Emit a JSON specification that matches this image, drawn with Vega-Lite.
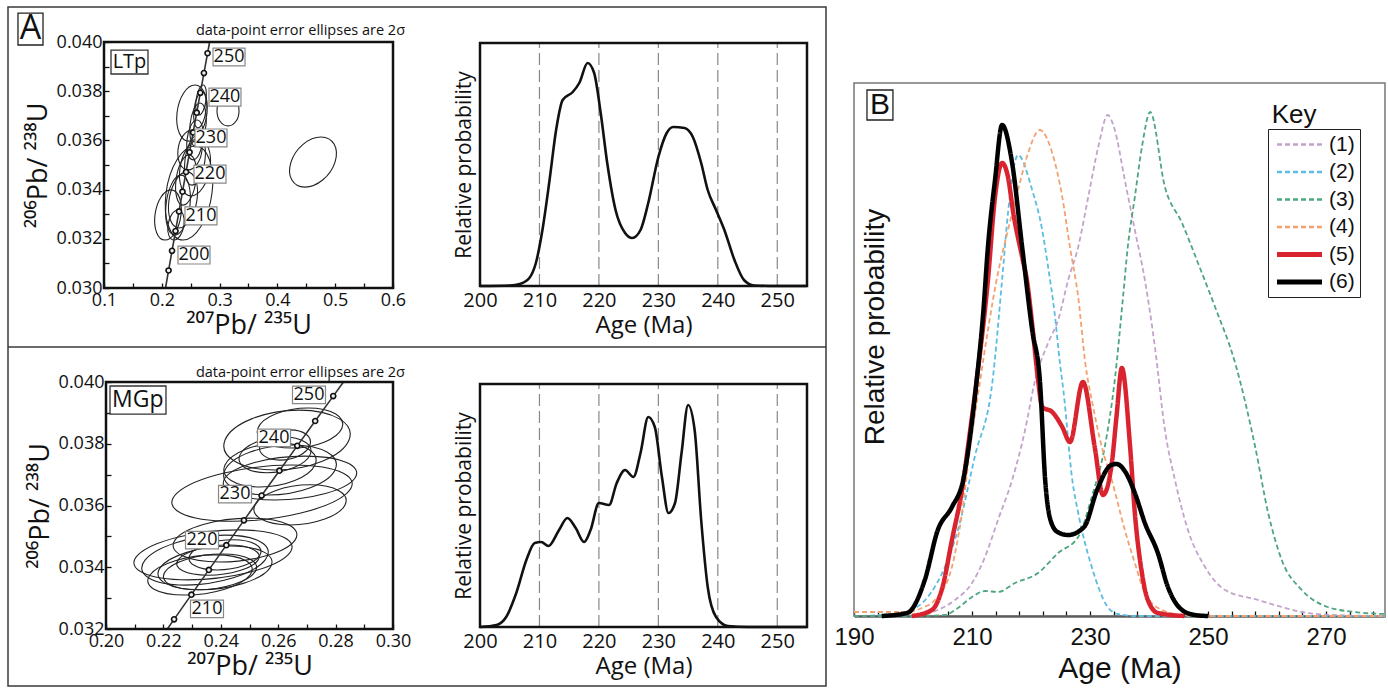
{
"$schema":"https://vega.github.io/schema/vega-lite/v6.json",
"width":1388,"height":690,"autosize":"none","padding":0,"background":"white",
"config":{"view":{"stroke":null},"font":"Open Sans","axis":{"grid":false,"domain":false,"labelFlush":false,"labelOverlap":false,"labelColor":"#111","titleColor":"#111","tickColor":"#111","titleFontWeight":"normal","labelFont":"Open Sans","titleFont":"Open Sans, DejaVu Sans"}},
"data":{"values":[{}]},
"datasets":{
"conc":[{"t":195,"x":0.211726,"y":0.030712},{"t":200,"x":0.217708,"y":0.031511},{"t":205,"x":0.223719,"y":0.032312},{"t":210,"x":0.229759,"y":0.033113},{"t":215,"x":0.23583,"y":0.033914},{"t":220,"x":0.24193,"y":0.034716},{"t":225,"x":0.248061,"y":0.035519},{"t":230,"x":0.254222,"y":0.036323},{"t":235,"x":0.260413,"y":0.037127},{"t":240,"x":0.266635,"y":0.037932},{"t":245,"x":0.272888,"y":0.038737},{"t":250,"x":0.279171,"y":0.039543}],
"ltp_line":[{"t":190.55,"x":0.206427,"y":0.03},{"t":195,"x":0.211726,"y":0.030712},{"t":200,"x":0.217708,"y":0.031511},{"t":205,"x":0.223719,"y":0.032312},{"t":210,"x":0.229759,"y":0.033113},{"t":215,"x":0.23583,"y":0.033914},{"t":220,"x":0.24193,"y":0.034716},{"t":225,"x":0.248061,"y":0.035519},{"t":230,"x":0.254222,"y":0.036323},{"t":235,"x":0.260413,"y":0.037127},{"t":240,"x":0.266635,"y":0.037932},{"t":245,"x":0.272888,"y":0.038737},{"t":250,"x":0.279171,"y":0.039543},{"t":252.83,"x":0.282741,"y":0.04}],
"mgp_line":[{"t":203.05,"x":0.221371,"y":0.032},{"t":205,"x":0.223719,"y":0.032312},{"t":210,"x":0.229759,"y":0.033113},{"t":215,"x":0.23583,"y":0.033914},{"t":220,"x":0.24193,"y":0.034716},{"t":225,"x":0.248061,"y":0.035519},{"t":230,"x":0.254222,"y":0.036323},{"t":235,"x":0.260413,"y":0.037127},{"t":240,"x":0.266635,"y":0.037932},{"t":245,"x":0.272888,"y":0.038737},{"t":250,"x":0.279171,"y":0.039543},{"t":252.83,"x":0.282741,"y":0.04}],
"ltp_lab":[{"label":"250","x":0.3163,"y":0.03939},{"label":"240","x":0.3093,"y":0.03776},{"label":"230","x":0.2851,"y":0.0361},{"label":"220","x":0.2834,"y":0.03463},{"label":"210","x":0.2678,"y":0.03293},{"label":"200","x":0.2557,"y":0.03134}],
"mgp_lab":[{"label":"250","x":0.27073,"y":0.03958},{"label":"240","x":0.25854,"y":0.03819},{"label":"230","x":0.24495,"y":0.03637},{"label":"220","x":0.23345,"y":0.03488},{"label":"210","x":0.23519,"y":0.03265}],
"ltp_ell":[
{"id":"L1","k":1,"x":0.2159,"y":0.03399},{"id":"L1","k":2,"x":0.1882,"y":0.03297},{"id":"L1","k":3,"x":0.2055,"y":0.03195},{"id":"L1","k":4,"x":0.2332,"y":0.03297},
{"id":"L2","k":1,"x":0.2332,"y":0.03459},{"id":"L2","k":2,"x":0.2073,"y":0.03337},{"id":"L2","k":3,"x":0.2228,"y":0.03215},{"id":"L2","k":4,"x":0.2488,"y":0.03337},
{"id":"L3","k":1,"x":0.2574,"y":0.03577},{"id":"L3","k":2,"x":0.2073,"y":0.03386},{"id":"L3","k":3,"x":0.2367,"y":0.03195},{"id":"L3","k":4,"x":0.2869,"y":0.03386},
{"id":"L4","k":1,"x":0.2471,"y":0.03541},{"id":"L4","k":2,"x":0.2246,"y":0.03439},{"id":"L4","k":3,"x":0.2367,"y":0.03337},{"id":"L4","k":4,"x":0.2592,"y":0.03439},
{"id":"L5","k":1,"x":0.2626,"y":0.03622},{"id":"L5","k":2,"x":0.2401,"y":0.0352},{"id":"L5","k":3,"x":0.2523,"y":0.03418},{"id":"L5","k":4,"x":0.2747,"y":0.0352},
{"id":"L6","k":1,"x":0.2609,"y":0.03683},{"id":"L6","k":2,"x":0.2436,"y":0.03602},{"id":"L6","k":3,"x":0.254,"y":0.03521},{"id":"L6","k":4,"x":0.2713,"y":0.03602},
{"id":"L7","k":1,"x":0.2661,"y":0.03752},{"id":"L7","k":2,"x":0.2488,"y":0.03663},{"id":"L7","k":3,"x":0.2592,"y":0.03574},{"id":"L7","k":4,"x":0.2765,"y":0.03663},
{"id":"L8","k":1,"x":0.2574,"y":0.03825},{"id":"L8","k":2,"x":0.2263,"y":0.03711},{"id":"L8","k":3,"x":0.2471,"y":0.03597},{"id":"L8","k":4,"x":0.2782,"y":0.03711},
{"id":"L9","k":1,"x":0.2696,"y":0.03797},{"id":"L9","k":2,"x":0.2557,"y":0.03724},{"id":"L9","k":3,"x":0.2626,"y":0.03651},{"id":"L9","k":4,"x":0.2765,"y":0.03724},
{"id":"L10","k":1,"x":0.2713,"y":0.03825},{"id":"L10","k":2,"x":0.2592,"y":0.03764},{"id":"L10","k":3,"x":0.2644,"y":0.03703},{"id":"L10","k":4,"x":0.2765,"y":0.03764},
{"id":"L11","k":1,"x":0.2523,"y":0.03642},{"id":"L11","k":2,"x":0.228,"y":0.03561},{"id":"L11","k":3,"x":0.2453,"y":0.0348},{"id":"L11","k":4,"x":0.2696,"y":0.03561},
{"id":"L12","k":1,"x":0.2644,"y":0.03602},{"id":"L12","k":2,"x":0.2315,"y":0.03488},{"id":"L12","k":3,"x":0.2505,"y":0.03374},{"id":"L12","k":4,"x":0.2834,"y":0.03488},
{"id":"L13","k":1,"x":0.228,"y":0.03317},{"id":"L13","k":2,"x":0.2107,"y":0.03256},{"id":"L13","k":3,"x":0.2211,"y":0.03195},{"id":"L13","k":4,"x":0.2384,"y":0.03256},
{"id":"L14","k":1,"x":0.2436,"y":0.03472},{"id":"L14","k":2,"x":0.2125,"y":0.03358},{"id":"L14","k":3,"x":0.2298,"y":0.03244},{"id":"L14","k":4,"x":0.2609,"y":0.03358},
{"id":"L15","k":1,"x":0.4754,"y":0.03614},{"id":"L15","k":2,"x":0.4235,"y":0.03512},{"id":"L15","k":3,"x":0.4477,"y":0.0341},{"id":"L15","k":4,"x":0.4997,"y":0.03512},
{"id":"L16","k":1,"x":0.3145,"y":0.03781},{"id":"L16","k":2,"x":0.2955,"y":0.0372},{"id":"L16","k":3,"x":0.3145,"y":0.03659},{"id":"L16","k":4,"x":0.3336,"y":0.0372}],
"mgp_ell":[
{"id":"M1","k":1,"x":0.26725,"y":0.03909},{"id":"M1","k":2,"x":0.24147,"y":0.03812},{"id":"M1","k":3,"x":0.25889,"y":0.03715},{"id":"M1","k":4,"x":0.28467,"y":0.03812},
{"id":"M2","k":1,"x":0.27039,"y":0.03916},{"id":"M2","k":2,"x":0.25297,"y":0.03851},{"id":"M2","k":3,"x":0.26481,"y":0.03786},{"id":"M2","k":4,"x":0.28223,"y":0.03851},
{"id":"M3","k":1,"x":0.26481,"y":0.03731},{"id":"M3","k":2,"x":0.22474,"y":0.0364},{"id":"M3","k":3,"x":0.24391,"y":0.03549},{"id":"M3","k":4,"x":0.28398,"y":0.0364},
{"id":"M4","k":1,"x":0.26934,"y":0.0376},{"id":"M4","k":2,"x":0.24146,"y":0.03689},{"id":"M4","k":3,"x":0.25888,"y":0.03618},{"id":"M4","k":4,"x":0.28676,"y":0.03689},
{"id":"M5","k":1,"x":0.26062,"y":0.03802},{"id":"M5","k":2,"x":0.24146,"y":0.03731},{"id":"M5","k":3,"x":0.25366,"y":0.0366},{"id":"M5","k":4,"x":0.27282,"y":0.03731},
{"id":"M6","k":1,"x":0.26168,"y":0.03822},{"id":"M6","k":2,"x":0.24669,"y":0.03764},{"id":"M6","k":3,"x":0.2561,"y":0.03706},{"id":"M6","k":4,"x":0.27109,"y":0.03764},
{"id":"M7","k":1,"x":0.26411,"y":0.03845},{"id":"M7","k":2,"x":0.25366,"y":0.03796},{"id":"M7","k":3,"x":0.26063,"y":0.03747},{"id":"M7","k":4,"x":0.27108,"y":0.03796},
{"id":"M8","k":1,"x":0.26481,"y":0.03796},{"id":"M8","k":2,"x":0.24147,"y":0.03715},{"id":"M8","k":3,"x":0.25645,"y":0.03634},{"id":"M8","k":4,"x":0.27979,"y":0.03715},
{"id":"M9","k":1,"x":0.27108,"y":0.03667},{"id":"M9","k":2,"x":0.25192,"y":0.03602},{"id":"M9","k":3,"x":0.26412,"y":0.03537},{"id":"M9","k":4,"x":0.28328,"y":0.03602},
{"id":"M10","k":1,"x":0.24599,"y":0.03521},{"id":"M10","k":2,"x":0.21115,"y":0.0344},{"id":"M10","k":3,"x":0.22857,"y":0.03359},{"id":"M10","k":4,"x":0.26341,"y":0.0344},
{"id":"M11","k":1,"x":0.24147,"y":0.03504},{"id":"M11","k":2,"x":0.21359,"y":0.03423},{"id":"M11","k":3,"x":0.22753,"y":0.03342},{"id":"M11","k":4,"x":0.25541,"y":0.03423},
{"id":"M12","k":1,"x":0.24321,"y":0.03469},{"id":"M12","k":2,"x":0.21882,"y":0.03398},{"id":"M12","k":3,"x":0.23275,"y":0.03327},{"id":"M12","k":4,"x":0.25714,"y":0.03398},
{"id":"M13","k":1,"x":0.24042,"y":0.03443},{"id":"M13","k":2,"x":0.22056,"y":0.03385},{"id":"M13","k":3,"x":0.23206,"y":0.03327},{"id":"M13","k":4,"x":0.25192,"y":0.03385},
{"id":"M14","k":1,"x":0.2425,"y":0.03472},{"id":"M14","k":2,"x":0.22508,"y":0.03423},{"id":"M14","k":3,"x":0.23554,"y":0.03374},{"id":"M14","k":4,"x":0.25296,"y":0.03423},
{"id":"M15","k":1,"x":0.25018,"y":0.03559},{"id":"M15","k":2,"x":0.22404,"y":0.03488},{"id":"M15","k":3,"x":0.23972,"y":0.03417},{"id":"M15","k":4,"x":0.26586,"y":0.03488},
{"id":"M16","k":1,"x":0.23798,"y":0.0344},{"id":"M16","k":2,"x":0.21533,"y":0.03375},{"id":"M16","k":3,"x":0.22752,"y":0.0331},{"id":"M16","k":4,"x":0.25017,"y":0.03375},
{"id":"M17","k":1,"x":0.24425,"y":0.03489},{"id":"M17","k":2,"x":0.22926,"y":0.0344},{"id":"M17","k":3,"x":0.23867,"y":0.03391},{"id":"M17","k":4,"x":0.25366,"y":0.0344}],
"ltp_pdp":[{"a":200,"p":0},{"a":205,"p":0.5},{"a":206.7,"p":2},{"a":208.3,"p":8},{"a":209.4,"p":23},{"a":210.5,"p":56},{"a":211.7,"p":106},{"a":212.8,"p":156},{"a":213.9,"p":186},{"a":215.6,"p":194},{"a":216.7,"p":203},{"a":218.1,"p":223},{"a":219.2,"p":213},{"a":220.3,"p":173},{"a":221.4,"p":123},{"a":222.8,"p":76},{"a":224.4,"p":53},{"a":225.6,"p":48},{"a":227,"p":56},{"a":228.3,"p":83},{"a":230,"p":129},{"a":231.4,"p":153},{"a":232.5,"p":159},{"a":234.4,"p":158},{"a":235.8,"p":149},{"a":237.2,"p":123},{"a":238.3,"p":96},{"a":239.7,"p":76},{"a":241.1,"p":56},{"a":242.8,"p":26},{"a":244.4,"p":6},{"a":246.1,"p":0.5},{"a":250,"p":0},{"a":255,"p":0}],
"mgp_pdp":[{"a":200,"p":0},{"a":202.8,"p":2},{"a":204.4,"p":10},{"a":206.1,"p":34},{"a":207.8,"p":67},{"a":209.2,"p":84},{"a":210.3,"p":85},{"a":211.5,"p":81},{"a":213.3,"p":97},{"a":214.7,"p":109},{"a":216.1,"p":99},{"a":217.5,"p":85},{"a":218.6,"p":97},{"a":220,"p":124},{"a":221.7,"p":122},{"a":223,"p":144},{"a":224.4,"p":157},{"a":225.8,"p":150},{"a":227,"p":174},{"a":228.3,"p":210},{"a":229.4,"p":200},{"a":230.6,"p":150},{"a":231.7,"p":114},{"a":232.8,"p":124},{"a":233.9,"p":174},{"a":235,"p":222},{"a":236.1,"p":197},{"a":237.2,"p":107},{"a":238.3,"p":40},{"a":239.7,"p":10},{"a":241.7,"p":1},{"a":245,"p":0},{"a":255,"p":0}],
"grid":[{"g":210},{"g":220},{"g":230},{"g":240},{"g":250}],
"b":[
{"s":"(1)","a":190,"p":0},{"s":"(1)","a":196,"p":0},{"s":"(1)","a":201.5,"p":1},{"s":"(1)","a":204.2,"p":6},{"s":"(1)","a":207.1,"p":16},{"s":"(1)","a":210,"p":33},{"s":"(1)","a":212.2,"p":59},{"s":"(1)","a":214.4,"p":96},{"s":"(1)","a":216.8,"p":136},{"s":"(1)","a":219,"p":186},{"s":"(1)","a":220.7,"p":236},{"s":"(1)","a":222.9,"p":273},{"s":"(1)","a":224.6,"p":296},{"s":"(1)","a":226.3,"p":336},{"s":"(1)","a":228,"p":369},{"s":"(1)","a":229.7,"p":419},{"s":"(1)","a":231.4,"p":469},{"s":"(1)","a":233,"p":501},{"s":"(1)","a":234.2,"p":486},{"s":"(1)","a":235.9,"p":436},{"s":"(1)","a":237.6,"p":386},{"s":"(1)","a":239.3,"p":336},{"s":"(1)","a":241,"p":269},{"s":"(1)","a":242.7,"p":186},{"s":"(1)","a":244.4,"p":136},{"s":"(1)","a":246.6,"p":86},{"s":"(1)","a":249.5,"p":49},{"s":"(1)","a":252.9,"p":26},{"s":"(1)","a":258.5,"p":16},{"s":"(1)","a":262.5,"p":9},{"s":"(1)","a":265.9,"p":4},{"s":"(1)","a":271,"p":1},{"s":"(1)","a":280,"p":0},
{"s":"(2)","a":190,"p":0},{"s":"(2)","a":197,"p":2},{"s":"(2)","a":199.8,"p":6},{"s":"(2)","a":202.5,"p":19},{"s":"(2)","a":205.4,"p":49},{"s":"(2)","a":207.6,"p":86},{"s":"(2)","a":210.5,"p":160},{"s":"(2)","a":213.5,"p":236},{"s":"(2)","a":215.1,"p":336},{"s":"(2)","a":216.1,"p":403},{"s":"(2)","a":217.8,"p":461},{"s":"(2)","a":220.2,"p":426},{"s":"(2)","a":221.9,"p":386},{"s":"(2)","a":222.9,"p":349},{"s":"(2)","a":224,"p":303},{"s":"(2)","a":224.9,"p":253},{"s":"(2)","a":225.5,"p":225},{"s":"(2)","a":227,"p":136},{"s":"(2)","a":228,"p":103},{"s":"(2)","a":230.3,"p":49},{"s":"(2)","a":233,"p":9},{"s":"(2)","a":234.7,"p":2},{"s":"(2)","a":238,"p":0},{"s":"(2)","a":280,"p":0},
{"s":"(3)","a":190,"p":0},{"s":"(3)","a":200,"p":0},{"s":"(3)","a":205.4,"p":1},{"s":"(3)","a":207.6,"p":8},{"s":"(3)","a":210,"p":19},{"s":"(3)","a":212.2,"p":25},{"s":"(3)","a":214.4,"p":24},{"s":"(3)","a":217.3,"p":33},{"s":"(3)","a":221.2,"p":43},{"s":"(3)","a":224.6,"p":63},{"s":"(3)","a":228,"p":79},{"s":"(3)","a":230.3,"p":119},{"s":"(3)","a":232.5,"p":169},{"s":"(3)","a":234.2,"p":236},{"s":"(3)","a":235.6,"p":319},{"s":"(3)","a":236.4,"p":369},{"s":"(3)","a":237.6,"p":419},{"s":"(3)","a":238.8,"p":469},{"s":"(3)","a":240.2,"p":504},{"s":"(3)","a":242.7,"p":429},{"s":"(3)","a":245.6,"p":393},{"s":"(3)","a":248.3,"p":353},{"s":"(3)","a":251.2,"p":309},{"s":"(3)","a":254.6,"p":253},{"s":"(3)","a":258,"p":169},{"s":"(3)","a":260.2,"p":103},{"s":"(3)","a":262.5,"p":56},{"s":"(3)","a":265.9,"p":26},{"s":"(3)","a":270.3,"p":9},{"s":"(3)","a":274.9,"p":4},{"s":"(3)","a":280,"p":2},
{"s":"(4)","a":190,"p":4},{"s":"(4)","a":199,"p":4},{"s":"(4)","a":201.5,"p":8},{"s":"(4)","a":203.7,"p":16},{"s":"(4)","a":206.6,"p":49},{"s":"(4)","a":208.3,"p":103},{"s":"(4)","a":209.7,"p":169},{"s":"(4)","a":211.4,"p":236},{"s":"(4)","a":212.7,"p":286},{"s":"(4)","a":214.4,"p":343},{"s":"(4)","a":216.1,"p":386},{"s":"(4)","a":217.8,"p":426},{"s":"(4)","a":219.3,"p":459},{"s":"(4)","a":221.5,"p":486},{"s":"(4)","a":223.6,"p":463},{"s":"(4)","a":225.3,"p":419},{"s":"(4)","a":226.6,"p":369},{"s":"(4)","a":228,"p":319},{"s":"(4)","a":229.2,"p":253},{"s":"(4)","a":230.5,"p":210},{"s":"(4)","a":232,"p":169},{"s":"(4)","a":233.7,"p":136},{"s":"(4)","a":235.9,"p":86},{"s":"(4)","a":237.6,"p":53},{"s":"(4)","a":239.3,"p":23},{"s":"(4)","a":242.2,"p":6},{"s":"(4)","a":245.6,"p":1},{"s":"(4)","a":250,"p":0},{"s":"(4)","a":280,"p":0},
{"s":"(5)","a":199.8,"p":0},{"s":"(5)","a":203.2,"p":6},{"s":"(5)","a":205,"p":29},{"s":"(5)","a":206.6,"p":76},{"s":"(5)","a":208.3,"p":126},{"s":"(5)","a":209.7,"p":186},{"s":"(5)","a":210.8,"p":236},{"s":"(5)","a":212.7,"p":336},{"s":"(5)","a":213.9,"p":419},{"s":"(5)","a":215.1,"p":453},{"s":"(5)","a":216.1,"p":439},{"s":"(5)","a":217,"p":403},{"s":"(5)","a":218.5,"p":359},{"s":"(5)","a":219.3,"p":336},{"s":"(5)","a":220.3,"p":286},{"s":"(5)","a":221.2,"p":236},{"s":"(5)","a":221.9,"p":209},{"s":"(5)","a":223.6,"p":204},{"s":"(5)","a":225.3,"p":189},{"s":"(5)","a":226.6,"p":174},{"s":"(5)","a":228.8,"p":234},{"s":"(5)","a":230.8,"p":169},{"s":"(5)","a":232.2,"p":121},{"s":"(5)","a":233.7,"p":153},{"s":"(5)","a":234.5,"p":200},{"s":"(5)","a":235.4,"p":248},{"s":"(5)","a":236.8,"p":169},{"s":"(5)","a":237.6,"p":103},{"s":"(5)","a":238.8,"p":43},{"s":"(5)","a":239.8,"p":16},{"s":"(5)","a":241.5,"p":3},{"s":"(5)","a":246,"p":0},
{"s":"(6)","a":194.7,"p":0},{"s":"(6)","a":199,"p":3},{"s":"(6)","a":202,"p":36},{"s":"(6)","a":204.2,"p":86},{"s":"(6)","a":206.6,"p":109},{"s":"(6)","a":208.5,"p":136},{"s":"(6)","a":210.8,"p":236},{"s":"(6)","a":211.9,"p":303},{"s":"(6)","a":212.7,"p":369},{"s":"(6)","a":213.9,"p":436},{"s":"(6)","a":215.1,"p":491},{"s":"(6)","a":216.8,"p":453},{"s":"(6)","a":218.5,"p":369},{"s":"(6)","a":220.2,"p":286},{"s":"(6)","a":221.5,"p":236},{"s":"(6)","a":222.4,"p":136},{"s":"(6)","a":223.3,"p":96},{"s":"(6)","a":224.5,"p":84},{"s":"(6)","a":226.3,"p":81},{"s":"(6)","a":229,"p":89},{"s":"(6)","a":231.2,"p":126},{"s":"(6)","a":233.6,"p":151},{"s":"(6)","a":234.5,"p":152},{"s":"(6)","a":236,"p":144},{"s":"(6)","a":237.6,"p":123},{"s":"(6)","a":239.3,"p":93},{"s":"(6)","a":241.5,"p":63},{"s":"(6)","a":243.2,"p":29},{"s":"(6)","a":245.6,"p":6},{"s":"(6)","a":247.8,"p":1},{"s":"(6)","a":250,"p":0}]
},
"layer":[
{"layer":[
 {"mark":{"type":"rect","filled":false,"stroke":"#3a3a3a","strokeWidth":1.5},
  "encoding":{"x":{"datum":0,"type":"quantitative","scale":{"domain":[0,1],"range":[8,826],"nice":false,"zero":false},"axis":null},"x2":{"datum":1},
   "y":{"datum":0,"type":"quantitative","scale":{"domain":[0,1],"range":[686,7],"nice":false,"zero":false},"axis":null},"y2":{"datum":1}}},
 {"mark":{"type":"rule","stroke":"#3a3a3a","strokeWidth":1.5},"encoding":{"x":{"datum":0,"type":"quantitative"},"x2":{"datum":1},"y":{"datum":0.4993,"type":"quantitative"}}},
 {"mark":{"type":"rect","filled":false,"stroke":"#222","strokeWidth":1.3},"encoding":{"x":{"datum":0.0122,"type":"quantitative"},"x2":{"datum":0.0428},"y":{"datum":0.944,"type":"quantitative"},"y2":{"datum":0.991}}},
 {"mark":{"type":"text","text":"A","fontSize":34,"font":"Open Sans","align":"center","baseline":"middle","color":"#111"},"encoding":{"x":{"datum":0.0275,"type":"quantitative"},"y":{"datum":0.9676,"type":"quantitative"}}}
]},
{"layer":[
 {"data":{"name":"ltp_ell"},"mark":{"type":"line","interpolate":"cardinal-closed","tension":-0.657,"stroke":"#222","strokeWidth":1.1},
  "encoding":{"x":{"field":"x","type":"quantitative","scale":{"domain":[0.1,0.6],"range":[104,393],"nice":false,"zero":false},
    "axis":{"orient":"bottom","offset":-402,"values":[0.1,0.15,0.2,0.25,0.3,0.35,0.4,0.45,0.5,0.55,0.6],"labelExpr":"abs(datum.value*10-round(datum.value*10))<0.001 ? format(datum.value,'.1f') : ''","tickSize":-5,"tickWidth":1.3,"labelPadding":8,"labelFontSize":18,"title":"²⁰⁷Pb/ ²³⁵U","titleFontSize":27,"titlePadding":3}},
   "y":{"field":"y","type":"quantitative","scale":{"domain":[0.03,0.04],"range":[288,42],"nice":false,"zero":false},
    "axis":{"orient":"left","offset":-104,"values":[0.03,0.031,0.032,0.033,0.034,0.035,0.036,0.037,0.038,0.039,0.04],"labelExpr":"abs(datum.value*500-round(datum.value*500))<0.001 ? format(datum.value,'.3f') : ''","tickSize":-5,"tickWidth":1.3,"labelPadding":7,"labelFontSize":18,"title":"²⁰⁶Pb/ ²³⁸U","titleFontSize":27,"titlePadding":4}},
   "detail":{"field":"id"},"order":{"field":"k"}}},
 {"data":{"name":"ltp_line"},"mark":{"type":"line","stroke":"#333","strokeWidth":1.6},"encoding":{"x":{"field":"x","type":"quantitative"},"y":{"field":"y","type":"quantitative"},"order":{"field":"t"}}},
 {"data":{"name":"conc"},"mark":{"type":"point","shape":"circle","size":26,"filled":true,"fill":"#eee","stroke":"#111","strokeWidth":1.6,"opacity":1},"encoding":{"x":{"field":"x","type":"quantitative"},"y":{"field":"y","type":"quantitative"}}},
 {"data":{"name":"ltp_lab"},"mark":{"type":"point","shape":"M-1,-0.56H1V0.56H-1Z","size":1024,"filled":true,"fill":"white","stroke":"#888","strokeWidth":1.2,"opacity":1},"encoding":{"x":{"field":"x","type":"quantitative"},"y":{"field":"y","type":"quantitative"}}},
 {"data":{"name":"ltp_lab"},"mark":{"type":"text","fontSize":18,"font":"Open Sans","color":"#111","align":"center","baseline":"middle"},"encoding":{"x":{"field":"x","type":"quantitative"},"y":{"field":"y","type":"quantitative"},"text":{"field":"label"}}},
 {"mark":{"type":"rect","fill":"white","stroke":"#333","strokeWidth":1.3},"encoding":{"x":{"datum":0.1121,"type":"quantitative"},"x2":{"datum":0.1761},"y":{"datum":0.0387,"type":"quantitative"},"y2":{"datum":0.03967}}},
 {"mark":{"type":"text","text":"LTp","fontSize":20,"font":"Open Sans","color":"#111","align":"center","baseline":"middle"},"encoding":{"x":{"datum":0.1441,"type":"quantitative"},"y":{"datum":0.03919,"type":"quantitative"}}},
 {"mark":{"type":"text","text":"data-point error ellipses are 2σ","fontSize":14.5,"font":"Open Sans","color":"#111","align":"right","baseline":"middle"},"encoding":{"x":{"datum":0.6208,"type":"quantitative"},"y":{"datum":0.040447,"type":"quantitative"}}},
 {"mark":{"type":"rect","filled":false,"stroke":"#111","strokeWidth":2.5},"encoding":{"x":{"datum":0.1,"type":"quantitative"},"x2":{"datum":0.6},"y":{"datum":0.03,"type":"quantitative"},"y2":{"datum":0.04}}}
]},
{"layer":[
 {"data":{"name":"grid"},"mark":{"type":"rule","stroke":"#888","strokeWidth":1.2,"strokeDash":[12,5]},
  "encoding":{"x":{"field":"g","type":"quantitative","scale":{"domain":[200,255],"range":[480,807],"nice":false,"zero":false},
    "axis":{"orient":"bottom","offset":-404,"values":[200,210,220,230,240,250],"ticks":false,"labelPadding":4,"labelFontSize":20,"title":"Age (Ma)","titleFontSize":24,"titlePadding":3}},
   "y":{"datum":0,"type":"quantitative","scale":{"domain":[0,243],"range":[286,43],"nice":false,"zero":false},
    "axis":{"orient":"left","offset":-480,"labels":false,"ticks":false,"title":"Relative probability","titleFontSize":21,"titlePadding":6}},
   "y2":{"datum":243}}},
 {"data":{"name":"ltp_pdp"},"mark":{"type":"line","interpolate":"monotone","stroke":"#111","strokeWidth":2.6},"encoding":{"x":{"field":"a","type":"quantitative"},"y":{"field":"p","type":"quantitative"}}},
 {"mark":{"type":"rect","filled":false,"stroke":"#111","strokeWidth":2.5},"encoding":{"x":{"datum":200,"type":"quantitative"},"x2":{"datum":255},"y":{"datum":0,"type":"quantitative"},"y2":{"datum":243}}}
]},
{"layer":[
 {"data":{"name":"mgp_ell"},"mark":{"type":"line","interpolate":"cardinal-closed","tension":-0.657,"stroke":"#222","strokeWidth":1.1},
  "encoding":{"x":{"field":"x","type":"quantitative","scale":{"domain":[0.2,0.3],"range":[106,393],"nice":false,"zero":false},
    "axis":{"orient":"bottom","offset":-61,"values":[0.2,0.21,0.22,0.23,0.24,0.25,0.26,0.27,0.28,0.29,0.3],"labelExpr":"abs(datum.value*50-round(datum.value*50))<0.001 ? format(datum.value,'.2f') : ''","tickSize":-5,"tickWidth":1.3,"labelPadding":8,"labelFontSize":18,"title":"²⁰⁷Pb/ ²³⁵U","titleFontSize":27,"titlePadding":3}},
   "y":{"field":"y","type":"quantitative","scale":{"domain":[0.032,0.04],"range":[629,382],"nice":false,"zero":false},
    "axis":{"orient":"left","offset":-106,"values":[0.032,0.033,0.034,0.035,0.036,0.037,0.038,0.039,0.04],"labelExpr":"abs(datum.value*500-round(datum.value*500))<0.001 ? format(datum.value,'.3f') : ''","tickSize":-5,"tickWidth":1.3,"labelPadding":7,"labelFontSize":18,"title":"²⁰⁶Pb/ ²³⁸U","titleFontSize":27,"titlePadding":4}},
   "detail":{"field":"id"},"order":{"field":"k"}}},
 {"data":{"name":"mgp_line"},"mark":{"type":"line","stroke":"#333","strokeWidth":1.6},"encoding":{"x":{"field":"x","type":"quantitative"},"y":{"field":"y","type":"quantitative"},"order":{"field":"t"}}},
 {"data":{"name":"conc"},"transform":[{"filter":"datum.t >= 205"}],"mark":{"type":"point","shape":"circle","size":26,"filled":true,"fill":"#eee","stroke":"#111","strokeWidth":1.6,"opacity":1},"encoding":{"x":{"field":"x","type":"quantitative"},"y":{"field":"y","type":"quantitative"}}},
 {"data":{"name":"mgp_lab"},"mark":{"type":"point","shape":"M-1,-0.53H1V0.53H-1Z","size":1089,"filled":true,"fill":"white","stroke":"#888","strokeWidth":1.2,"opacity":1},"encoding":{"x":{"field":"x","type":"quantitative"},"y":{"field":"y","type":"quantitative"}}},
 {"data":{"name":"mgp_lab"},"mark":{"type":"text","fontSize":18,"font":"Open Sans","color":"#111","align":"center","baseline":"middle"},"encoding":{"x":{"field":"x","type":"quantitative"},"y":{"field":"y","type":"quantitative"},"text":{"field":"label"}}},
 {"mark":{"type":"rect","fill":"white","stroke":"#333","strokeWidth":1.3},"encoding":{"x":{"datum":0.2014,"type":"quantitative"},"x2":{"datum":0.2209},"y":{"datum":0.03896,"type":"quantitative"},"y2":{"datum":0.03987}}},
 {"mark":{"type":"text","text":"MGp","fontSize":23,"font":"Open Sans","color":"#111","align":"center","baseline":"middle"},"encoding":{"x":{"datum":0.2111,"type":"quantitative"},"y":{"datum":0.03942,"type":"quantitative"}}},
 {"mark":{"type":"text","text":"data-point error ellipses are 2σ","fontSize":14.5,"font":"Open Sans","color":"#111","align":"right","baseline":"middle"},"encoding":{"x":{"datum":0.30418,"type":"quantitative"},"y":{"datum":0.04029,"type":"quantitative"}}},
 {"mark":{"type":"rect","filled":false,"stroke":"#111","strokeWidth":2.5},"encoding":{"x":{"datum":0.2,"type":"quantitative"},"x2":{"datum":0.3},"y":{"datum":0.032,"type":"quantitative"},"y2":{"datum":0.04}}}
]},
{"layer":[
 {"data":{"name":"grid"},"mark":{"type":"rule","stroke":"#888","strokeWidth":1.2,"strokeDash":[12,5]},
  "encoding":{"x":{"field":"g","type":"quantitative","scale":{"domain":[200,255],"range":[480,807],"nice":false,"zero":false},
    "axis":{"orient":"bottom","offset":-63,"values":[200,210,220,230,240,250],"ticks":false,"labelPadding":4,"labelFontSize":20,"title":"Age (Ma)","titleFontSize":24,"titlePadding":3}},
   "y":{"datum":0,"type":"quantitative","scale":{"domain":[0,243],"range":[627,384],"nice":false,"zero":false},
    "axis":{"orient":"left","offset":-480,"labels":false,"ticks":false,"title":"Relative probability","titleFontSize":21,"titlePadding":6}},
   "y2":{"datum":243}}},
 {"data":{"name":"mgp_pdp"},"mark":{"type":"line","interpolate":"monotone","stroke":"#111","strokeWidth":2.6},"encoding":{"x":{"field":"a","type":"quantitative"},"y":{"field":"p","type":"quantitative"}}},
 {"mark":{"type":"rect","filled":false,"stroke":"#111","strokeWidth":2.5},"encoding":{"x":{"datum":200,"type":"quantitative"},"x2":{"datum":255},"y":{"datum":0,"type":"quantitative"},"y2":{"datum":243}}}
]},
{"layer":[
 {"mark":{"type":"rect","filled":false,"stroke":"#777","strokeWidth":1.5},
  "encoding":{"x":{"datum":190,"type":"quantitative","scale":{"domain":[190,280],"range":[854,1385],"nice":false,"zero":false},
    "axis":{"orient":"bottom","offset":-74,"values":[190,194,198,202,206,210,214,218,222,226,230,234,238,242,246,250,254,258,262,266,270,274,278],"labelExpr":"(datum.value-190)%20===0 ? datum.label : ''","tickSize":-5,"tickWidth":1.3,"labelPadding":14,"labelFont":"Liberation Sans","labelFontSize":24,"title":"Age (Ma)","titleFont":"Liberation Sans","titleFontSize":30,"titlePadding":4,"domain":true,"domainColor":"#111","domainWidth":2.2}},
   "x2":{"datum":280},
   "y":{"datum":0,"type":"quantitative","scale":{"domain":[0,533],"range":[616,83],"nice":false,"zero":false},"axis":null},"y2":{"datum":533}}},
 {"data":{"name":"b"},"mark":{"type":"line","interpolate":"monotone"},
  "encoding":{"x":{"field":"a","type":"quantitative"},"y":{"field":"p","type":"quantitative"},
   "color":{"field":"s","type":"nominal","scale":{"domain":["(1)","(2)","(3)","(4)","(5)","(6)"],"range":["#c3a3cc","#5cbde0","#4ea67f","#f2a271","#d9232e","#000000"]},
    "legend":{"orient":"none","legendX":1268,"legendY":129,"title":null,"strokeColor":"#222","padding":5,"symbolType":"stroke","symbolSize":2025,"symbolStrokeWidth":2.3,"symbolOffset":16,"labelFont":"Liberation Sans","labelFontSize":21,"labelColor":"#111","labelOffset":19,"rowPadding":5.5,
     "encode":{"symbols":{"update":{"strokeWidth":{"signal":"datum.value==='(5)'||datum.value==='(6)' ? 5 : 2.3"}}}}}},
   "strokeDash":{"field":"s","type":"nominal","scale":{"domain":["(1)","(2)","(3)","(4)","(5)","(6)"],"range":[[5,3],[5,3],[5,3],[5,3],[1,0],[1,0]]}},
   "strokeWidth":{"condition":{"test":"datum.s==='(5)'||datum.s==='(6)'","value":4.5},"value":1.8}}},
 {"mark":{"type":"text","text":"Relative probability","angle":270,"fontSize":28,"font":"Liberation Sans","color":"#111","align":"center","baseline":"middle"},"encoding":{"x":{"datum":193.7,"type":"quantitative"},"y":{"datum":289,"type":"quantitative"}}},
 {"mark":{"type":"rect","filled":false,"stroke":"#222","strokeWidth":1.3},"encoding":{"x":{"datum":192.2,"type":"quantitative"},"x2":{"datum":196.6},"y":{"datum":496,"type":"quantitative"},"y2":{"datum":526}}},
 {"mark":{"type":"text","text":"B","fontSize":30,"font":"Liberation Sans","color":"#111","align":"center","baseline":"middle"},"encoding":{"x":{"datum":194.4,"type":"quantitative"},"y":{"datum":511,"type":"quantitative"}}},
 {"mark":{"type":"text","text":"Key","fontSize":26,"font":"Liberation Sans","color":"#111","align":"left","baseline":"middle"},"encoding":{"x":{"datum":260.8,"type":"quantitative"},"y":{"datum":501,"type":"quantitative"}}}
]}
],
"resolve":{"scale":{"x":"independent","y":"independent"},"axis":{"x":"independent","y":"independent"}}
}
